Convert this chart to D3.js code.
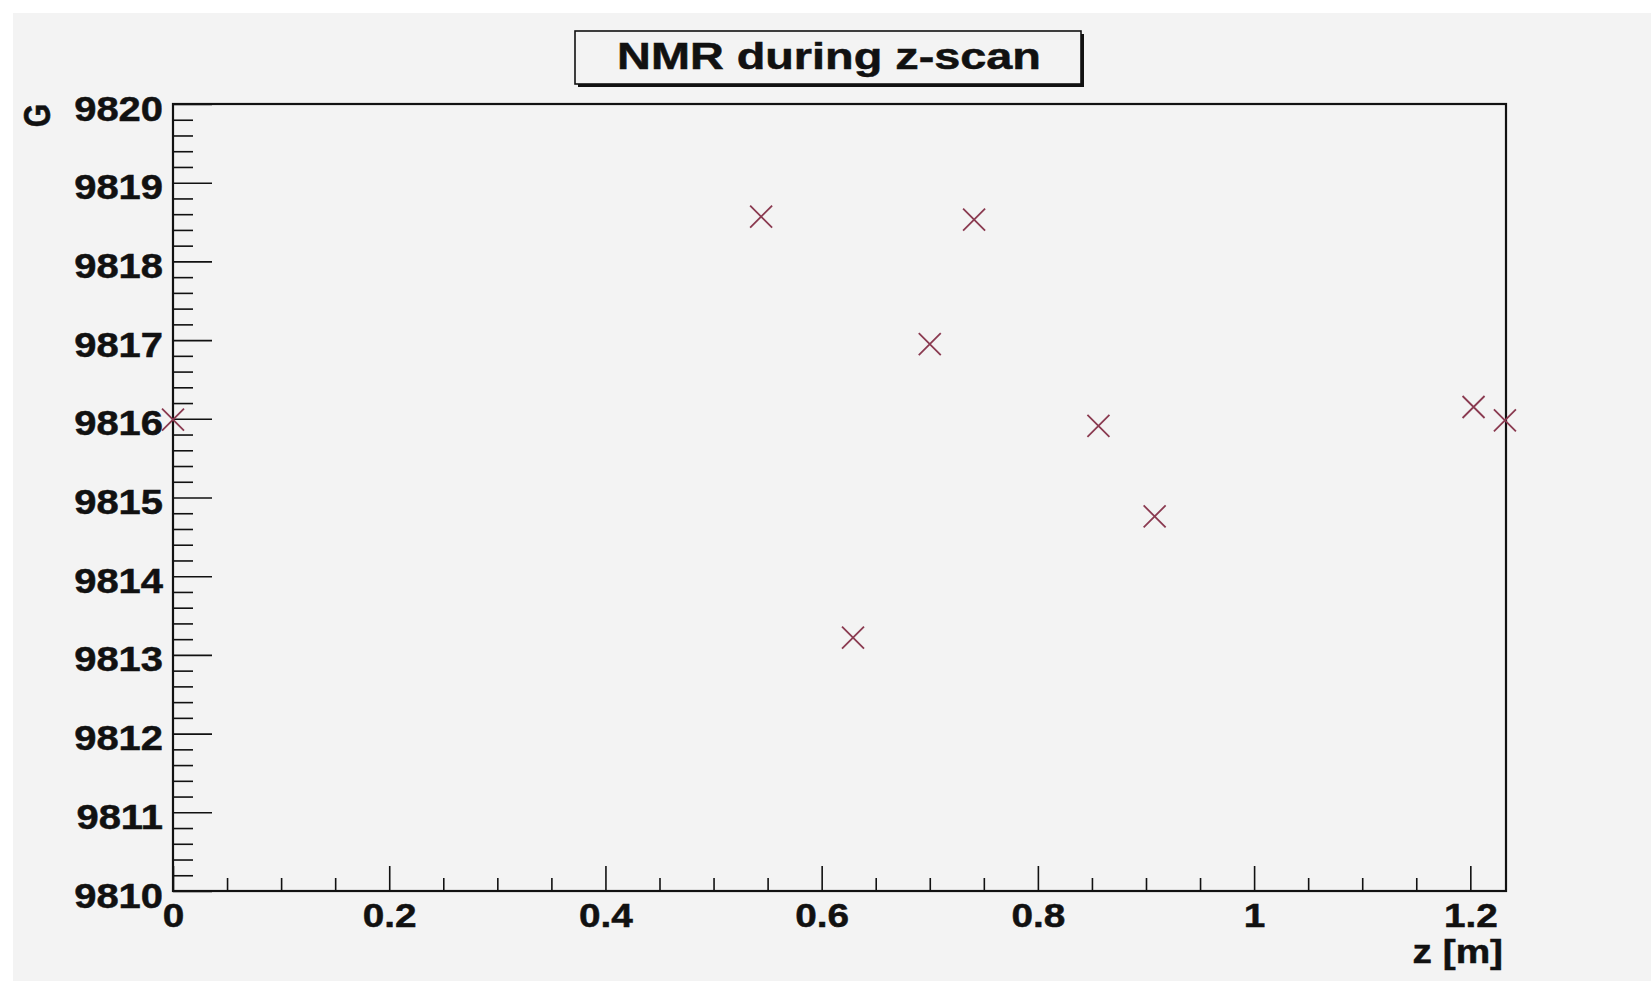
<!DOCTYPE html>
<html>
<head>
<meta charset="utf-8">
<script src="https://cdn.jsdelivr.net/npm/d3@7"></script>
<style>
  html, body { margin: 0; padding: 0; background: #ffffff; }
  svg { display: block; }
  text { font-family: "Liberation Sans", Arial, Helvetica, sans-serif; font-weight: bold; fill: #111; stroke: #111; stroke-width: 0.5px; }
</style>
</head>
<body>
<svg id="chart" width="1651" height="981"></svg>
<script>
// NMR field readings taken along the z-scan
const zPositions = [0.0, 0.544, 0.629, 0.700, 0.741, 0.856, 0.908, 1.203, 1.232];
const fieldValues = [9815.99, 9818.57, 9813.22, 9816.95, 9818.53, 9815.91, 9814.76, 9816.15, 9815.98];

const xMajorTicks = [0, 0.2, 0.4, 0.6, 0.8, 1, 1.2];
const xTickLabels = ["0", "0.2", "0.4", "0.6", "0.8", "1", "1.2"];
const yMajorTicks = [9810, 9811, 9812, 9813, 9814, 9815, 9816, 9817, 9818, 9819, 9820];

const titleText = "NMR during z-scan";
const xAxisTitle = "z [m]";
const yAxisTitle = "G";

const W = 1651, H = 981;
const frame = { left: 173, right: 1506, top: 104, bottom: 891 };
const textStretch = 1.14;
const ink = "#111";

const svg = d3.select("#chart");

// canvas background
svg.append("rect").attr("x", 13).attr("y", 13).attr("width", W - 13).attr("height", H - 13)
  .attr("fill", "#f3f3f3");

const x = d3.scaleLinear().domain([0, 1.233]).range([frame.left, frame.right]);
const y = d3.scaleLinear().domain([9810, 9820]).range([frame.bottom, frame.top]);

const xMinor = d3.range(0, 1.2331, 0.05).filter(v => !xMajorTicks.some(m => Math.abs(m - v) < 1e-6));
const yMinor = d3.range(9810, 9820.001, 0.2).filter(v => Math.abs(v - Math.round(v)) > 1e-6);

// minor ticks
svg.append("g").attr("transform", `translate(0,${frame.bottom})`)
  .call(d3.axisBottom(x).tickValues(xMinor).tickSize(-13).tickFormat(""))
  .call(g => g.select(".domain").remove())
  .call(g => g.selectAll("line").attr("stroke", ink).attr("stroke-width", 1.6));
svg.append("g").attr("transform", `translate(${frame.left},0)`)
  .call(d3.axisLeft(y).tickValues(yMinor).tickSize(-20).tickFormat(""))
  .call(g => g.select(".domain").remove())
  .call(g => g.selectAll("line").attr("stroke", ink).attr("stroke-width", 1.6));

// major ticks + labels
const xAxis = svg.append("g").attr("transform", `translate(0,${frame.bottom})`)
  .call(d3.axisBottom(x).tickValues(xMajorTicks).tickSize(-25)
    .tickFormat((d, i) => xTickLabels[i]));
xAxis.select(".domain").remove();
xAxis.selectAll("line").attr("stroke", ink).attr("stroke-width", 1.6);
xAxis.selectAll("text")
  .attr("y", 0).attr("dy", null)
  .style("font-size", "34px").style("font-family", null).attr("fill", ink)
  .attr("transform", `translate(0,36) scale(${textStretch},1)`);

const yAxis = svg.append("g").attr("transform", `translate(${frame.left},0)`)
  .call(d3.axisLeft(y).tickValues(yMajorTicks).tickSize(-39).tickFormat(d3.format("d")));
yAxis.select(".domain").remove();
yAxis.selectAll("line").attr("stroke", ink).attr("stroke-width", 1.6);
yAxis.selectAll("text")
  .attr("x", 0).attr("dy", null)
  .style("font-size", "35px").style("font-family", null).attr("fill", ink)
  .attr("transform", `translate(-10,16) scale(${textStretch},1)`);

// frame
svg.append("rect")
  .attr("x", frame.left).attr("y", frame.top)
  .attr("width", frame.right - frame.left).attr("height", frame.bottom - frame.top)
  .attr("fill", "none").attr("stroke", ink).attr("stroke-width", 2.2);

// axis titles
svg.append("text")
  .attr("text-anchor", "end")
  .attr("transform", `translate(1503,963) scale(${textStretch},1)`)
  .style("font-size", "34px")
  .text(xAxisTitle);

svg.append("text")
  .attr("text-anchor", "end")
  .attr("transform", `translate(50,104) scale(1.2,1) rotate(-90)`)
  .style("font-size", "30px")
  .text(yAxisTitle);

// title box with drop shadow
const box = { x: 575, y: 31, w: 506, h: 53 };
svg.append("rect").attr("x", box.x + 3).attr("y", box.y + 3).attr("width", box.w).attr("height", box.h)
  .attr("fill", ink);
svg.append("rect").attr("x", box.x).attr("y", box.y).attr("width", box.w).attr("height", box.h)
  .attr("fill", "#f3f3f3").attr("stroke", ink).attr("stroke-width", 1.6);
svg.append("text")
  .attr("text-anchor", "middle")
  .attr("transform", `translate(829,69) scale(1.3,1)`)
  .style("font-size", "36px")
  .text(titleText);

// cross markers
const half = 11;
const pts = zPositions.map((z, i) => ({ z, g: fieldValues[i] }));
const marks = svg.append("g").attr("stroke", "#8a3a50").attr("stroke-width", 1.8).attr("fill", "none");
marks.selectAll("path").data(pts).join("path")
  .attr("d", d => {
    const cx = x(d.z), cy = y(d.g);
    return `M${cx - half},${cy - half}L${cx + half},${cy + half}M${cx - half},${cy + half}L${cx + half},${cy - half}`;
  });
</script>
</body>
</html>
